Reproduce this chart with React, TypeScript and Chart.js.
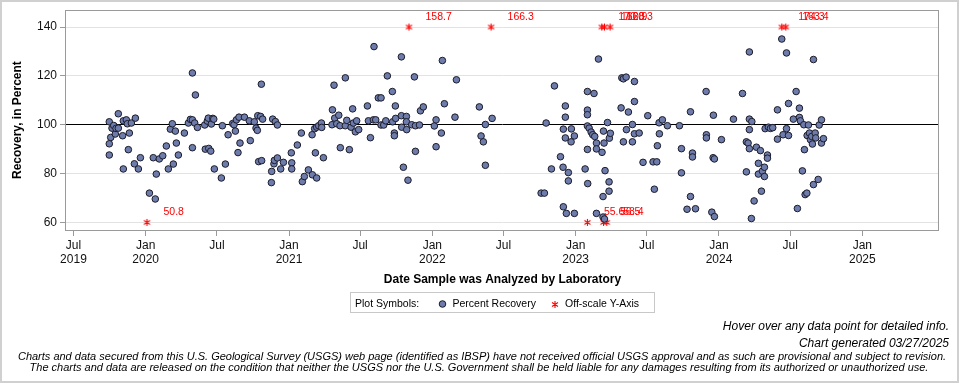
import React, { useEffect, useRef } from "react";
import { Chart, registerables } from "chart.js";

Chart.register(...registerables);

const FONT = '"Liberation Sans", Arial, Helvetica, sans-serif';

// Date analyzed (decimal years) and percent recovery
const analyzedA = [
  2019.746, 2019.756, 2019.746, 2019.746, 2019.765, 2019.777, 2019.788, 2019.793, 2019.809, 2019.809,
  2019.839, 2019.844, 2019.844, 2019.865, 2019.872, 2019.879, 2019.886, 2019.9, 2019.928, 2019.921,
  2019.949, 2019.963, 2020.026, 2020.053, 2020.067, 2020.074, 2020.095, 2020.119, 2020.144, 2020.158,
  2020.172, 2020.186, 2020.193, 2020.207, 2020.214, 2020.228, 2020.27, 2020.298, 2020.312, 2020.326,
  2020.326, 2020.326, 2020.342, 2020.347, 2020.361, 2020.412, 2020.416, 2020.43, 2020.437, 2020.44,
  2020.454, 2020.458, 2020.468, 2020.475, 2020.479, 2020.528, 2020.535, 2020.556, 2020.575, 2020.607,
  2020.616, 2020.626, 2020.633, 2020.644, 2020.651, 2020.658, 2020.689, 2020.723, 2020.73, 2020.758,
  2020.77, 2020.779, 2020.782, 2020.788, 2020.802, 2020.807, 2020.809, 2020.816, 2020.886, 2020.879,
  2020.877, 2020.895, 2020.898, 2020.905, 2020.919, 2020.919, 2020.942, 2020.961, 2021.016, 2021.019,
  2021.019, 2021.058, 2021.086, 2021.093, 2021.107, 2021.135, 2021.161, 2021.163, 2021.184, 2021.193,
  2021.179, 2021.193, 2021.207, 2021.226, 2021.228, 2021.24, 2021.3, 2021.303, 2021.314, 2021.319,
  2021.333, 2021.347, 2021.356, 2021.358, 2021.393, 2021.393, 2021.403, 2021.421, 2021.433, 2021.444,
  2021.449, 2021.463, 2021.472, 2021.486,
];
const recoveryA = [
  101.2, 94.8, 92.2, 87.6, 98.6, 99.7, 96.2, 98.5, 104.5, 98.6,
  95.5, 81.9, 101.6, 102.0, 100.4, 89.8, 96.6, 100.7, 102.7, 84.0,
  81.9, 86.5, 72.0, 86.5, 69.6, 79.8, 86.0, 87.3, 91.3, 81.9,
  98.2, 100.4, 83.9, 97.4, 92.5, 87.6, 96.6, 100.7, 102.2, 121.2,
  102.0, 90.6, 100.7, 112.2, 98.9, 99.9, 90.0, 101.5, 102.7, 90.3,
  89.2, 100.3, 102.6, 102.3, 81.9, 78.2, 99.6, 83.9, 95.9, 100.5,
  100.0, 97.4, 102.0, 88.6, 103.1, 92.5, 103.1, 101.6, 93.5, 101.2,
  98.6, 97.7, 103.7, 84.9, 103.4, 116.6, 85.3, 102.3, 102.3, 80.9,
  76.3, 84.0, 85.4, 101.3, 99.9, 86.4, 81.9, 84.6, 88.5, 84.4,
  81.9, 91.7, 96.6, 76.7, 78.8, 81.5, 95.9, 79.5, 88.5, 78.2,
  98.4, 99.0, 99.6, 100.7, 98.9, 86.5, 100.0, 106.1, 116.2, 102.7,
  100.4, 103.9, 99.6, 90.6, 119.2, 99.6, 101.8, 89.8, 99.0, 106.5,
  100.7, 97.1, 101.6, 98.0,
];

const analyzedB = [
  2021.547, 2021.554, 2021.568, 2021.593, 2021.589, 2021.605, 2021.623, 2021.642, 2021.642, 2021.661,
  2021.675, 2021.686, 2021.721, 2021.723, 2021.735, 2021.735, 2021.742, 2021.744, 2021.784, 2021.784,
  2021.786, 2021.798, 2021.819, 2021.819, 2021.821, 2021.83, 2021.856, 2021.875, 2021.882, 2021.882,
  2021.91, 2021.917, 2021.937, 2022.014, 2022.026, 2022.026, 2022.063, 2022.07, 2022.084, 2022.158,
  2022.168, 2022.328, 2022.34, 2022.356, 2022.37, 2022.37, 2022.417, 2022.759, 2022.782, 2022.794,
  2022.831, 2022.852, 2022.894, 2022.914, 2022.912, 2022.914, 2022.928, 2022.928, 2022.928, 2022.935,
  2022.949, 2022.949, 2022.968, 2022.97, 2022.991, 2022.991, 2023.066, 2023.082, 2023.082, 2023.082,
  2023.082, 2023.082, 2023.084, 2023.094, 2023.108, 2023.119, 2023.128, 2023.133, 2023.145, 2023.145,
  2023.145, 2023.159, 2023.184, 2023.191, 2023.194, 2023.198, 2023.205, 2023.222, 2023.233, 2023.233,
  2023.235, 2023.242, 2023.191, 2023.201, 2023.317, 2023.322, 2023.333, 2023.333, 2023.352, 2023.354,
  2023.368, 2023.396, 2023.396, 2023.41, 2023.41, 2023.41, 2023.443, 2023.47, 2023.503,
];
const recoveryB = [
  107.7, 101.6, 94.7, 132.0, 102.0, 102.0, 111.0, 111.0, 99.9, 99.9,
  101.6, 120.0, 113.6, 101.2, 96.6, 95.5, 107.7, 102.6, 127.8, 103.7,
  99.0, 82.6, 103.4, 101.2, 98.0, 77.3, 100.0, 119.6, 89.1, 99.6,
  99.9, 105.7, 107.3, 99.5, 102.0, 91.0, 96.6, 126.3, 108.6, 103.1,
  118.4, 107.3, 95.4, 93.0, 100.1, 83.4, 102.6, 72.0, 72.0, 100.7,
  81.9, 115.9, 86.9, 98.2, 82.6, 66.4, 107.7, 103.1, 94.6, 63.7,
  80.4, 77.0, 93.0, 98.3, 95.4, 63.7, 81.9, 113.6, 106.0, 104.1,
  99.5, 89.9, 75.9, 98.6, 97.0, 95.9, 112.8, 95.2, 92.5, 90.1,
  63.7, 126.9, 88.7, 70.6, 97.4, 92.5, 81.2, 100.9, 76.6, 72.8,
  94.5, 96.5, 62.2, 61.4, 106.9, 119.2, 118.8, 93.0, 119.5, 98.0,
  105.2, 100.1, 93.0, 117.7, 109.5, 96.3, 96.6, 84.6, 103.7,
];

const analyzedC = [
  2023.549, 2023.54, 2023.566, 2023.57, 2023.582, 2023.584, 2023.605, 2023.64, 2023.724, 2023.738,
  2023.738, 2023.777, 2023.801, 2023.801, 2023.815, 2023.815, 2023.836, 2023.91, 2023.912, 2023.912,
  2023.95, 2023.959, 2023.961, 2023.968, 2023.968, 2024.017, 2024.101, 2024.164, 2024.191, 2024.191,
  2024.203, 2024.212, 2024.212, 2024.212, 2024.212, 2024.229, 2024.245, 2024.226, 2024.261, 2024.275,
  2024.275, 2024.289, 2024.296, 2024.303, 2024.317, 2024.317, 2024.322, 2024.338, 2024.338, 2024.345,
  2024.359, 2024.375, 2024.408, 2024.408, 2024.438, 2024.447, 2024.471, 2024.471, 2024.485, 2024.485,
  2024.519, 2024.538, 2024.547, 2024.561, 2024.561, 2024.568, 2024.582, 2024.592, 2024.596, 2024.601,
  2024.613, 2024.615, 2024.624, 2024.631, 2024.638, 2024.647, 2024.652, 2024.659, 2024.659, 2024.671,
  2024.675, 2024.692, 2024.699, 2024.715, 2024.715, 2024.729,
];
const recoveryC = [
  73.6, 84.8, 84.8, 91.4, 100.8, 96.3, 102.0, 99.6, 99.6, 90.2,
  80.3, 65.4, 105.3, 70.6, 88.4, 86.8, 65.6, 113.6, 95.9, 94.6,
  64.2, 86.5, 103.9, 86.0, 62.4, 93.9, 102.3, 112.8, 80.7, 93.0,
  92.5, 129.8, 102.3, 98.0, 90.2, 101.3, 68.8, 61.6, 90.8, 84.2,
  79.8, 89.4, 72.8, 81.0, 82.6, 78.8, 98.4, 87.6, 86.3, 99.0,
  98.5, 98.8, 94.1, 106.1, 135.1, 95.9, 129.4, 98.4, 108.7, 95.6,
  102.3, 113.6, 65.7, 106.8, 103.0, 101.6, 81.1, 100.0, 89.8, 71.4,
  72.0, 95.6, 99.9, 96.6, 93.9, 95.2, 92.1, 126.7, 75.5, 96.6,
  94.6, 77.6, 99.9, 102.0, 92.5, 94.3,
];

// Off-scale results (true value shown as label, plotted at the axis limit)
const offscaleAnalyzed = [2020.009, 2021.837, 2022.41, 2023.182, 2023.201, 2023.24, 2023.082, 2023.194, 2023.217, 2024.438, 2024.466];
const offscaleRecovery = [50.8, 158.7, 166.3, 170.8, 162.9, 160.3, 55.6, 56.5, 58.4, 174.3, 163.4];
const offscaleHigh = 140;
const offscaleLow = 60;

const yTicks = [60, 80, 100, 120, 140];
const xTickValues = [2019.496, 2020, 2020.497, 2021, 2021.496, 2022, 2022.496, 2023, 2023.496, 2024, 2024.497, 2025];
const xTickLabels: (string | string[])[] = [
  ["Jul", "2019"], ["Jan", "2020"], "Jul", ["Jan", "2021"], "Jul", ["Jan", "2022"],
  "Jul", ["Jan", "2023"], "Jul", ["Jan", "2024"], "Jul", ["Jan", "2025"],
];

const X_MIN = 2019.444;
const X_MAX = 2025.535;
const Y_MIN = 56.9;
const Y_MAX = 146.9;

const MARKER_FILL = "#6E7CAB";
const MARKER_EDGE = "#1c1c2a";
const RED = "#ff0000";

function makeAsterisk(): HTMLCanvasElement {
  const c = document.createElement("canvas");
  c.width = 9;
  c.height = 9;
  const g = c.getContext("2d")!;
  g.strokeStyle = RED;
  g.lineWidth = 1.1;
  g.beginPath();
  g.moveTo(4.5, 1);
  g.lineTo(4.5, 8);
  g.moveTo(1.5, 2.5);
  g.lineTo(7.5, 6.5);
  g.moveTo(7.5, 2.5);
  g.lineTo(1.5, 6.5);
  g.stroke();
  return c;
}

function drawAsteriskAt(g: CanvasRenderingContext2D, x: number, y: number) {
  g.save();
  g.strokeStyle = RED;
  g.lineWidth = 1.1;
  g.beginPath();
  g.moveTo(x, y - 3.5);
  g.lineTo(x, y + 3.5);
  g.moveTo(x - 3, y - 2);
  g.lineTo(x + 3, y + 2);
  g.moveTo(x + 3, y - 2);
  g.lineTo(x - 3, y + 2);
  g.stroke();
  g.restore();
}

export default function App() {
  const ref = useRef<HTMLCanvasElement>(null);

  useEffect(() => {
    const canvas = ref.current;
    if (!canvas) return;

    const pts = [
      ...analyzedA.map((x, i) => ({ x, y: recoveryA[i] })),
      ...analyzedB.map((x, i) => ({ x, y: recoveryB[i] })),
      ...analyzedC.map((x, i) => ({ x, y: recoveryC[i] })),
    ];
    const offPts = offscaleAnalyzed.map((x, i) => ({
      x,
      y: offscaleRecovery[i] > 100 ? offscaleHigh : offscaleLow,
    }));

    const frame = {
      id: "frame",
      beforeDatasetsDraw(chart: any) {
        const { ctx, chartArea } = chart;
        ctx.save();
        ctx.strokeStyle = "#9a9a9a";
        ctx.lineWidth = 1;
        ctx.strokeRect(
          Math.round(chartArea.left) - 0.5,
          Math.round(chartArea.top) + 0.5,
          Math.round(chartArea.right - chartArea.left) + 0,
          Math.round(chartArea.bottom - chartArea.top)
        );
        ctx.restore();
      },
    };

    const offLabels = {
      id: "offLabels",
      afterDatasetsDraw(chart: any) {
        const meta = chart.getDatasetMeta(1);
        const ctx = chart.ctx;
        ctx.save();
        ctx.font = `10.5px ${FONT}`;
        ctx.fillStyle = RED;
        ctx.textAlign = "left";
        ctx.textBaseline = "middle";
        meta.data.forEach((el: any, i: number) => {
          ctx.fillText(offscaleRecovery[i].toFixed(1), el.x + 16.5, el.y - 10);
        });
        ctx.restore();
      },
    };

    const extras = {
      id: "extras",
      afterDraw(chart: any) {
        const ctx: CanvasRenderingContext2D = chart.ctx;
        ctx.save();
        // outer border
        ctx.strokeStyle = "#d0d0d0";
        ctx.lineWidth = 2;
        ctx.strokeRect(1, 1, 957, 381);
        // legend
        ctx.strokeStyle = "#c8c8c8";
        ctx.lineWidth = 1;
        ctx.strokeRect(350.5, 292.5, 304, 20);
        ctx.fillStyle = "#000";
        ctx.font = `10.5px ${FONT}`;
        ctx.textAlign = "left";
        ctx.textBaseline = "alphabetic";
        ctx.fillText("Plot Symbols:", 355, 307);
        ctx.beginPath();
        ctx.arc(442.5, 304, 3.3, 0, Math.PI * 2);
        ctx.fillStyle = MARKER_FILL;
        ctx.fill();
        ctx.strokeStyle = MARKER_EDGE;
        ctx.lineWidth = 1;
        ctx.stroke();
        ctx.fillStyle = "#000";
        ctx.fillText("Percent Recovery", 452.5, 307);
        drawAsteriskAt(ctx, 555, 304.5);
        ctx.fillText("Off-scale Y-Axis", 565, 307);
        // notes
        ctx.font = `italic 12px ${FONT}`;
        ctx.textAlign = "right";
        ctx.fillText("Hover over any data point for detailed info.", 949, 330);
        ctx.fillText("Chart generated 03/27/2025", 949, 347);
        ctx.font = `italic 11px ${FONT}`;
        ctx.textAlign = "center";
        ctx.fillText(
          "Charts and data secured from this U.S. Geological Survey (USGS) web page (identified as IBSP) have not received official USGS approval and as such are provisional and subject to revision.",
          482,
          359.5
        );
        ctx.fillText(
          "The charts and data are released on the condition that neither the USGS nor the U.S. Government shall be held liable for any damages resulting from its authorized or unauthorized use.",
          479,
          370.5
        );
        ctx.restore();
      },
    };

    const chart = new Chart(canvas, {
      type: "scatter",
      data: {
        datasets: [
          {
            label: "Percent Recovery",
            data: pts,
            pointRadius: 3.3,
            pointHoverRadius: 3.3,
            pointBackgroundColor: MARKER_FILL,
            pointBorderColor: MARKER_EDGE,
            pointBorderWidth: 1,
          },
          {
            label: "Off-scale Y-Axis",
            data: offPts,
            pointStyle: makeAsterisk() as any,
            pointRadius: 4,
            pointBackgroundColor: RED,
            pointBorderColor: RED,
          },
        ],
      },
      options: {
        responsive: false,
        maintainAspectRatio: false,
        animation: false,
        events: [],
        layout: { padding: { top: 9, right: 21, bottom: 0, left: 0 } },
        plugins: {
          legend: { display: false },
          tooltip: { enabled: false },
        },
        scales: {
          x: {
            type: "linear",
            min: X_MIN,
            max: X_MAX,
            afterBuildTicks: (scale: any) => {
              scale.ticks = xTickValues.map((v) => ({ value: v }));
            },
            afterFit: (scale: any) => {
              scale.height = 154;
            },
            border: { display: false },
            grid: {
              drawOnChartArea: false,
              drawTicks: true,
              tickLength: 6,
              tickColor: "#9a9a9a",
            },
            ticks: {
              autoSkip: false,
              maxRotation: 0,
              minRotation: 0,
              padding: 2,
              color: "#111",
              font: { family: FONT, size: 12 },
              callback: (_v: any, i: number) => xTickLabels[i],
            },
            title: {
              display: true,
              text: "Date Sample was Analyzed by Laboratory",
              color: "#000",
              font: { family: FONT, size: 12, weight: "bold" },
              padding: { top: 0, bottom: 97 },
            },
          },
          y: {
            type: "linear",
            min: Y_MIN,
            max: Y_MAX,
            afterBuildTicks: (scale: any) => {
              scale.ticks = yTicks.map((v) => ({ value: v }));
            },
            afterFit: (scale: any) => {
              scale.width = 66;
            },
            border: { display: false },
            grid: {
              drawOnChartArea: true,
              drawTicks: true,
              tickLength: 6,
              tickColor: "#9a9a9a",
              color: (c: any) => (c.tick && c.tick.value === 100 ? "#000" : "#e2e2e2"),
              lineWidth: 1,
            },
            ticks: {
              padding: 3,
              color: "#111",
              font: { family: FONT, size: 12 },
            },
            title: {
              display: true,
              text: "Recovery, in Percent",
              color: "#000",
              font: { family: FONT, size: 12, weight: "bold" },
              padding: { top: 10.8, bottom: 0 },
            },
          },
        },
      },
      plugins: [frame, offLabels, extras],
    });

    return () => chart.destroy();
  }, []);

  return (
    <div style={{ position: "fixed", left: 0, top: 0, width: 960, height: 384, background: "#fff" }}>
      <canvas ref={ref} width={960} height={384} style={{ display: "block", width: 960, height: 384 }} />
    </div>
  );
}
